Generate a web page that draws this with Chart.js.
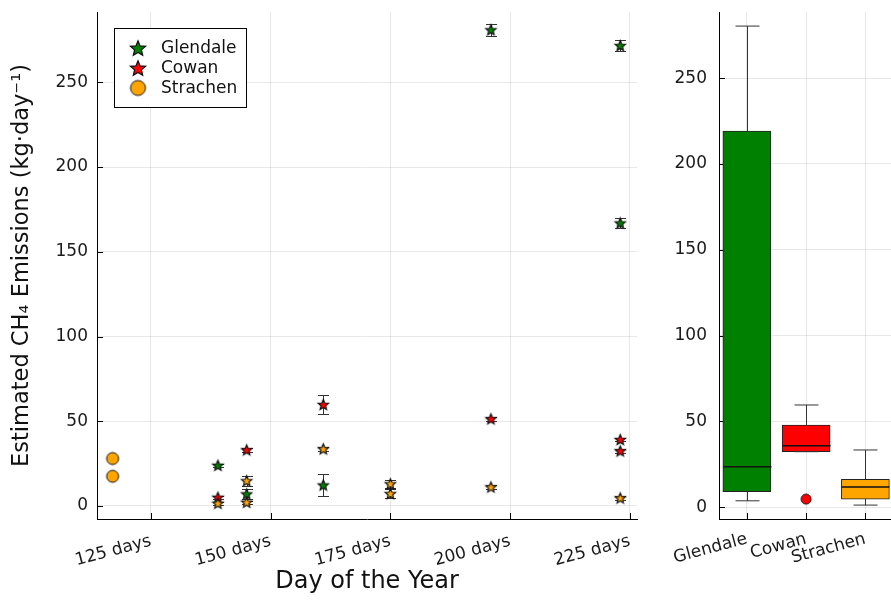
<!DOCTYPE html>
<html lang="en">
<head>
<meta charset="UTF-8">
<title>Estimated CH4 Emissions</title>
<script src="https://cdn.jsdelivr.net/npm/chart.js"></script>
<style>
  body { margin: 0; background: #fff; overflow: hidden; width: 891px; height: 600px; position: relative; }
  #scatterChart { position: absolute; left: 0; top: 0; }
  #boxChart { position: absolute; left: 645px; top: 0; }
</style>
</head>
<body>
<canvas id="scatterChart" width="645" height="600"></canvas>
<canvas id="boxChart" width="255" height="600"></canvas>
<script>
// values
var dayTicks = [125, 150, 175, 200, 225];
var emissionTicks = [0, 50, 100, 150, 200, 250];

var glendaleDays = [139, 145, 161, 196, 223, 223];
var glendaleVals = [24.0, 7.1, 12.4, 281.0, 271.7, 167.0];
var glendaleErr  = [1, 3, 6.7, 3.5, 3.3, 2.8];

var cowanDays = [139, 145, 161, 196, 223, 223];
var cowanVals = [5.1, 33.1, 59.9, 51.4, 39.2, 32.5];
var cowanErr  = [1, 1, 5.5, 1, 1, 1];

var strachenStarDays = [139, 145, 145, 161, 175, 175, 196, 223];
var strachenStarVals = [1.6, 14.9, 2.2, 33.7, 13.1, 7.3, 11.2, 4.7];
var strachenStarErr  = [1, 3, 1, 1, 2.5, 2.5, 1, 1];

var strachenCircleDays = [117, 117];
var strachenCircleVals = [28.0, 17.5];

var sites = ['Glendale', 'Cowan', 'Strachen'];
var siteColors = ['#008000', '#ff0000', '#ffa500'];
var sitePos = [0.5, 1.5, 2.5];
var boxLow  = [3.8, 32.4, 1.3];
var boxQ1   = [9.1, 32.4, 4.8];
var boxMed  = [23.6, 35.9, 11.8];
var boxQ3   = [219.2, 47.9, 16.3];
var boxHigh = [280.3, 59.6, 33.4];
var outlierPos  = [1.5];
var outlierVals = [4.8];

Chart.defaults.font.family = '"DejaVu Sans", sans-serif';
Chart.defaults.color = '#1a1a1a';

function makeStar(color, r) {
  var size = Math.ceil(r * 2 + 4);
  var c = document.createElement('canvas');
  c.width = size; c.height = size;
  var g = c.getContext('2d');
  g.translate(size / 2, size / 2 + r * 0.1);
  g.beginPath();
  for (var i = 0; i < 10; i++) {
    var rad = i % 2 === 0 ? r : r * 0.45;
    var a = -Math.PI / 2 + i * Math.PI / 5;
    g.lineTo(rad * Math.cos(a), rad * Math.sin(a));
  }
  g.closePath();
  g.fillStyle = color; g.fill();
  g.lineWidth = 1.2; g.strokeStyle = '#111'; g.stroke();
  return c;
}

function makeCircle(color, r) {
  var size = Math.ceil(r * 2 + 4);
  var c = document.createElement('canvas');
  c.width = size; c.height = size;
  var g = c.getContext('2d');
  g.beginPath();
  g.arc(size / 2, size / 2, r, 0, Math.PI * 2);
  g.fillStyle = color; g.fill();
  g.lineWidth = 1; g.strokeStyle = '#111'; g.stroke();
  return c;
}

function pts(xs, ys) {
  return xs.map(function(x, i) { return { x: x, y: ys[i] }; });
}

// vertical scales reserve room for the top label; the layout padding already does that
function noScalePadding(scale) {
  scale.paddingTop = 0;
  scale.paddingBottom = 0;
  scale.paddingLeft = 0;
  scale.paddingRight = 0;
}

var legendLabels = sites;
var legendMarkers = [makeStar(siteColors[0], 8), makeStar(siteColors[1], 8), makeCircle(siteColors[2], 7.5)];

// error bars drawn under the markers
var errorBars = {
  id: 'errorBars',
  beforeDatasetsDraw: function(chart) {
    var ctx = chart.ctx, xs = chart.scales.x, ys = chart.scales.y;
    ctx.save();
    ctx.strokeStyle = '#333';
    ctx.lineWidth = 1;
    chart.data.datasets.forEach(function(ds) {
      if (!ds.errors) return;
      ds.data.forEach(function(p, i) {
        var e = ds.errors[i];
        var px = Math.round(xs.getPixelForValue(p.x)) + 0.5;
        var top = Math.round(ys.getPixelForValue(p.y + e)) + 0.5;
        var bot = Math.round(ys.getPixelForValue(p.y - e)) + 0.5;
        ctx.beginPath();
        ctx.moveTo(px, top); ctx.lineTo(px, bot);
        ctx.moveTo(px - 5.5, top); ctx.lineTo(px + 5.5, top);
        ctx.moveTo(px - 5.5, bot); ctx.lineTo(px + 5.5, bot);
        ctx.stroke();
      });
    });
    ctx.restore();
  }
};

// tick marks pointing into the plot area
var inwardTicks = {
  id: 'inwardTicks',
  beforeDatasetsDraw: function(chart) {
    var ctx = chart.ctx, a = chart.chartArea;
    ctx.save();
    ctx.strokeStyle = '#000';
    ctx.lineWidth = 1;
    ctx.beginPath();
    chart.scales.x.ticks.forEach(function(t) {
      var px = Math.round(chart.scales.x.getPixelForValue(t.value)) + 0.5;
      ctx.moveTo(px, a.bottom); ctx.lineTo(px, a.bottom - 6);
    });
    chart.scales.y.ticks.forEach(function(t) {
      var py = Math.round(chart.scales.y.getPixelForValue(t.value)) + 0.5;
      ctx.moveTo(a.left, py); ctx.lineTo(a.left + 6, py);
    });
    ctx.stroke();
    ctx.restore();
  }
};

var legendBox = {
  id: 'legendBox',
  afterDraw: function(chart) {
    var ctx = chart.ctx;
    ctx.save();
    ctx.fillStyle = '#fff';
    ctx.fillRect(114.5, 28.5, 132, 79);
    ctx.strokeStyle = '#000';
    ctx.lineWidth = 1;
    ctx.strokeRect(114.5, 28.5, 132, 79);
    ctx.font = '17px "DejaVu Sans"';
    ctx.textBaseline = 'middle';
    ctx.fillStyle = '#111';
    legendLabels.forEach(function(lbl, i) {
      var cy = 48 + i * 20;
      var m = legendMarkers[i];
      ctx.drawImage(m, 138 - m.width / 2, cy - m.height / 2);
      ctx.fillText(lbl, 161, cy + 1);
    });
    ctx.restore();
  }
};

var gridColor = 'rgba(0,0,0,0.09)';

new Chart(document.getElementById('scatterChart'), {
  type: 'scatter',
  data: {
    datasets: [
      { label: 'Strachen', data: pts(strachenStarDays, strachenStarVals), errors: strachenStarErr,
        pointStyle: makeStar(siteColors[2], 5.5), order: 0 },
      { label: 'Strachen', data: pts(strachenCircleDays, strachenCircleVals),
        pointStyle: makeCircle(siteColors[2], 6), order: 1 },
      { label: 'Cowan', data: pts(cowanDays, cowanVals), errors: cowanErr,
        pointStyle: makeStar(siteColors[1], 5.5), order: 2 },
      { label: 'Glendale', data: pts(glendaleDays, glendaleVals), errors: glendaleErr,
        pointStyle: makeStar(siteColors[0], 5.5), order: 3 }
    ]
  },
  options: {
    responsive: false,
    animation: false,
    devicePixelRatio: 1,
    layout: { padding: { top: 12, left: 5, right: 8, bottom: 0 } },
    plugins: { legend: { display: false }, tooltip: { enabled: false } },
    scales: {
      x: {
        type: 'linear',
        min: 113.75,
        max: 226.5,
        afterBuildTicks: function(scale) {
          scale.ticks = dayTicks.map(function(v) { return { value: v }; });
        },
        afterFit: function(scale) { scale.height = 81; noScalePadding(scale); },
        ticks: {
          callback: function(v) { return v + ' days'; },
          minRotation: 15,
          maxRotation: 15,
          padding: 12,
          font: { size: 17 }
        },
        grid: { color: gridColor, drawTicks: false },
        border: { color: '#000', width: 1 },
        title: { display: true, text: 'Day of the Year', font: { size: 24 }, color: '#111' }
      },
      y: {
        min: -7.7,
        max: 291.5,
        afterBuildTicks: function(scale) {
          scale.ticks = emissionTicks.map(function(v) { return { value: v }; });
        },
        afterFit: function(scale) { scale.width = 92; noScalePadding(scale); },
        ticks: { padding: 9, font: { size: 17 } },
        grid: { color: gridColor, drawTicks: false },
        border: { color: '#000', width: 1 },
        title: { display: true, text: 'Estimated CH₄ Emissions (kg·day⁻¹)', font: { size: 22.5 }, color: '#111' }
      }
    }
  },
  plugins: [errorBars, inwardTicks, legendBox]
});

// whiskers and median lines of the box plot
var boxWhiskers = {
  id: 'boxWhiskers',
  afterDatasetsDraw: function(chart) {
    var ctx = chart.ctx, xs = chart.scales.x, ys = chart.scales.y;
    var bars = chart.getDatasetMeta(0).data;
    ctx.save();
    sites.forEach(function(s, i) {
      var cx = Math.round(xs.getPixelForValue(sitePos[i])) + 0.5;
      var half = bars[i].width / 2;
      var cap = half / 2;
      var yLow = ys.getPixelForValue(boxLow[i]);
      var yQ1 = ys.getPixelForValue(boxQ1[i]);
      var yMed = ys.getPixelForValue(boxMed[i]);
      var yQ3 = ys.getPixelForValue(boxQ3[i]);
      var yHigh = ys.getPixelForValue(boxHigh[i]);
      ctx.strokeStyle = '#333';
      ctx.lineWidth = 1;
      ctx.beginPath();
      ctx.moveTo(cx, yQ3); ctx.lineTo(cx, yHigh);
      ctx.moveTo(cx - cap, yHigh); ctx.lineTo(cx + cap, yHigh);
      ctx.moveTo(cx, yQ1); ctx.lineTo(cx, yLow);
      ctx.moveTo(cx - cap, yLow); ctx.lineTo(cx + cap, yLow);
      ctx.stroke();
      ctx.strokeStyle = '#111';
      ctx.lineWidth = 1.5;
      ctx.beginPath();
      ctx.moveTo(cx - half, yMed); ctx.lineTo(cx + half, yMed);
      ctx.stroke();
    });
    ctx.restore();
  }
};

new Chart(document.getElementById('boxChart'), {
  type: 'bar',
  data: {
    datasets: [
      {
        data: sites.map(function(s, i) { return { x: sitePos[i], y: [boxQ1[i], boxQ3[i]] }; }),
        backgroundColor: siteColors,
        borderColor: '#222',
        borderWidth: 1,
        borderSkipped: false,
        barThickness: 48
      },
      {
        type: 'scatter',
        data: pts(outlierPos, outlierVals),
        pointStyle: makeCircle(siteColors[1], 5)
      }
    ]
  },
  options: {
    responsive: false,
    animation: false,
    devicePixelRatio: 1,
    layout: { padding: { top: 12, left: 0, right: 0, bottom: 0 } },
    plugins: { legend: { display: false }, tooltip: { enabled: false } },
    scales: {
      x: {
        type: 'linear',
        min: 0.03,
        max: 3.0,
        offset: false,
        afterBuildTicks: function(scale) {
          scale.ticks = sitePos.map(function(v) { return { value: v }; });
        },
        afterFit: function(scale) { scale.height = 81; noScalePadding(scale); },
        ticks: {
          callback: function(v) { return sites[sitePos.indexOf(v)]; },
          minRotation: 15,
          maxRotation: 15,
          padding: 10,
          font: { size: 17 }
        },
        grid: { color: gridColor, drawTicks: false, offset: false },
        border: { color: '#000', width: 1 }
      },
      y: {
        min: -6.8,
        max: 288.5,
        afterBuildTicks: function(scale) {
          scale.ticks = emissionTicks.map(function(v) { return { value: v }; });
        },
        afterFit: function(scale) { scale.width = 74; noScalePadding(scale); },
        ticks: { padding: 12, font: { size: 17 } },
        grid: { color: gridColor, drawTicks: false },
        border: { color: '#000', width: 1 }
      }
    }
  },
  plugins: [inwardTicks, boxWhiskers]
});
</script>
</body>
</html>
